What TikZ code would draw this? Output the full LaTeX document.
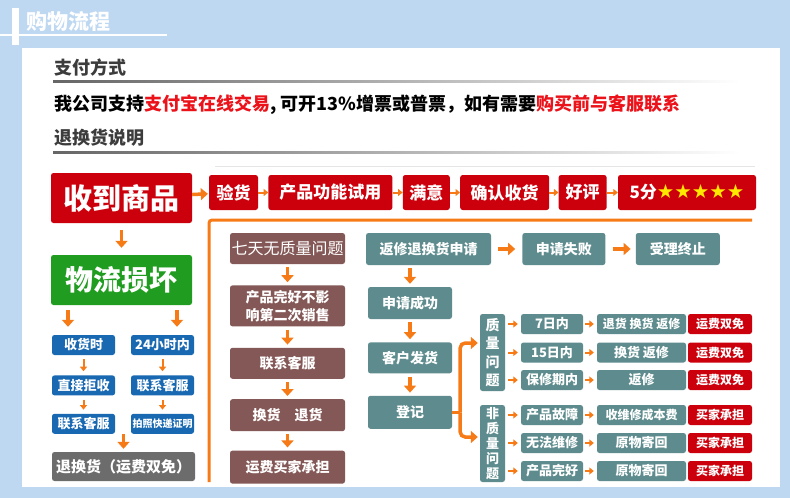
\documentclass[tikz,border=0pt]{standalone}
\usepackage{fontspec}
\setmainfont{Noto Sans CJK SC}
\newfontfamily\starfont{DejaVu Sans}
\usetikzlibrary{arrows.meta,positioning}

\definecolor{cBg}{RGB}{190,216,242}
\definecolor{cRed}{RGB}{204,0,12}
\definecolor{cGreen}{RGB}{32,156,32}
\definecolor{cBlue}{RGB}{24,104,178}
\definecolor{cGray}{RGB}{108,108,108}
\definecolor{cBrown}{RGB}{132,88,86}
\definecolor{cTeal}{RGB}{94,140,142}
\definecolor{cOrange}{RGB}{246,122,22}
\definecolor{cText}{RGB}{235,18,26}
\definecolor{cStar}{RGB}{255,232,0}
\definecolor{cHead}{RGB}{60,60,60}

\newcommand{\fsize}[1]{\bfseries\fontsize{#1}{#1}\selectfont}

\tikzset{
  box/.style={rounded corners=2.5pt, text=white, inner sep=0pt, align=center},
  sz/.style n args={2}{minimum width=#1pt, minimum height=#2pt},
  fs/.style={font=\fsize{#1}},
  redbox/.style={box, fill=cRed},
  greenbox/.style={box, fill=cGreen},
  bluebox/.style={box, fill=cBlue},
  graybox/.style={box, fill=cGray},
  brownbox/.style={box, fill=cBrown},
  tealbox/.style={box, fill=cTeal},
  arr/.style={draw=cOrange, line width=3.5pt, -{Triangle[width=12pt,length=7pt]}},
  sarr/.style={draw=cOrange, line width=2pt, -{Triangle[width=7pt,length=4.5pt]}},
  frame/.style={draw=cOrange, line width=3pt, rounded corners=3pt}
}

\begin{document}
\begin{tikzpicture}[x=1pt, y=-1pt, node distance=10pt]
% background and panel
\useasboundingbox (0,0) rectangle (790,498);
\fill[cBg] (0,0) rectangle (790,498);
\fill[white] (22,48) rectangle (780,487);
\fill[white] (12,8) rectangle (19,45);
\draw[white, line width=1.2pt] (0,35) -- (167,35);
\node[anchor=west, text=white, fs=21] (title) at (23,21) {购物流程};

% payment note
\node[anchor=west, text=cHead, fs=18] (pay) at (51,68) {支付方式};
\shade[left color=black!60, right color=white] (53,80) rectangle (740,82);
\node[anchor=west, fs=18] (note) at (51,105)
  {我公司支持\textcolor{cText}{支付宝在线交易}, 可开13\%增票或普票，如有需要\textcolor{cText}{购买前与客服联系}};
\node[anchor=west, text=cHead, fs=18] (retnote) at (51,138) {退换货说明};
\shade[left color=black!60, right color=white] (53,151) rectangle (740,153);
\draw[black!10] (215,166) -- (755,166);

% top row
\node[redbox, sz={141}{50}, fs=29] (get) at (121.5,198) {收到商品};
\node[redbox, sz={49}{35}, fs=17] (check) at (233.5,192.5) {验货};
\node[redbox, sz={124}{35}, fs=17, right=of check] (trial) {产品功能试用};
\node[redbox, sz={47}{35}, fs=17, right=of trial] (happy) {满意};
\node[redbox, sz={89}{35}, fs=17, right=of happy] (confirm) {确认收货};
\node[redbox, sz={48}{35}, fs=17, right=9pt of confirm] (praise) {好评};
\node[redbox, sz={138}{35}, fs=17, right=11pt of praise] (score) {5分{\starfont\mdseries\fontsize{19.5}{19.5}\selectfont\color{cStar}★★★★★}};
\draw[arr, shorten >=1pt] (get) -- (check);
\draw[sarr] (check) -- (trial);
\draw[sarr] (trial) -- (happy);
\draw[sarr] (happy) -- (confirm);
\draw[sarr] (confirm) -- (praise);
\draw[sarr] (praise) -- (score);
\draw[frame] (752,220) -- (209,220) -- (209,482);

% logistics damage
\node[greenbox, sz={141}{50}, fs=28] (dmg) at (121.5,280) {物流损坏};
\draw[arr, shorten <=7pt, shorten >=7pt] (get) -- (dmg);
\node[bluebox, sz={63}{20}, fs=13] (recv) at (83.5,345) {收货时};
\node[bluebox, sz={63}{20}, fs=13] (day) at (162.5,345) {24小时内};
\node[bluebox, sz={63}{20}, fs=13, below=20pt of recv] (reject) {直接拒收};
\node[bluebox, sz={63}{20}, fs=13, below=20pt of day] (svc) {联系客服};
\node[bluebox, sz={63}{20}, fs=13, below=18pt of reject] (svcb) {联系客服};
\node[bluebox, sz={63}{20}, fs=10, below=18pt of svc] (photo) {拍照快递证明};
\node[graybox, sz={143}{29}, fs=15] (swapfree) at (123.5,466.5) {退换货（运费双免）};
\draw[arr, shorten <=5pt, shorten >=8pt] ([xshift=-15.5pt]recv.north |- dmg.south) -- ([xshift=-15.5pt]recv.north);
\draw[arr, shorten <=5pt, shorten >=8pt] ([xshift=14.5pt]day.north |- dmg.south) -- ([xshift=14.5pt]day.north);
\draw[sarr, shorten <=4pt, shorten >=4pt] (recv) -- (reject);
\draw[sarr, shorten <=4pt, shorten >=4pt] (reject) -- (svcb);
\draw[sarr, shorten <=4pt, shorten >=4pt] (day) -- (svc);
\draw[sarr, shorten <=4pt, shorten >=4pt] (svc) -- (photo);
\draw[arr, shorten >=3pt] (swapfree.north |- svcb.south) -- (swapfree.north);

% seven days
\node[brownbox, sz={115}{31}, font=\fontsize{16}{16}\selectfont] (seven) at (287.5,248.5) {七天无质量问题};
\node[brownbox, sz={115}{41}, font=\bfseries\fontsize{14}{18}\selectfont, below=21pt of seven] (intact) {产品完好不影\\响第二次销售};
\node[brownbox, sz={115}{31}, fs=14, below=21pt of intact] (svcc) {联系客服};
\node[brownbox, sz={115}{32}, fs=14, below=20pt of svcc] (swap) {换货\quad 退货};
\node[brownbox, sz={115}{33}, fs=14, below=19pt of swap] (buyer) {运费买家承担};
\draw[arr, shorten <=3pt, shorten >=3pt] (seven) -- (intact);
\draw[arr, shorten <=3pt, shorten >=3pt] (intact) -- (svcc);
\draw[arr, shorten <=3pt, shorten >=3pt] (svcc) -- (swap);
\draw[arr, shorten <=3pt, shorten >=3pt] (swap) -- (buyer);

% repair request
\node[tealbox, sz={125}{32}, fs=14] (apply) at (428.5,249) {返修退换货申请};
\node[tealbox, sz={83}{32}, fs=14, right=31pt of apply] (fail) {申请失败};
\node[tealbox, sz={84}{32}, fs=14, right=30pt of fail] (stop) {受理终止};
\node[tealbox, sz={84}{32}, fs=14] (ok) at (410,303) {申请成功};
\node[tealbox, sz={84}{31}, fs=14, below=23pt of ok] (ship) {客户发货};
\node[tealbox, sz={84}{33}, fs=14, below=22pt of ship] (reg) {登记};
\draw[arr, shorten <=7pt, shorten >=7pt] (apply) -- (fail);
\draw[arr, shorten <=7pt, shorten >=5pt] (fail) -- (stop);
\draw[arr, shorten <=3pt, shorten >=3pt] (ok.north |- apply.south) -- (ok);
\draw[arr, shorten <=3pt, shorten >=3pt] (ok) -- (ship);
\draw[arr, shorten <=3pt, shorten >=3pt] (ship) -- (reg);

% quality split
\node[tealbox, sz={25}{77}, font=\bfseries\fontsize{14}{18.5}\selectfont] (qual) at (492.5,352.5) {质\\量\\问\\题};
\node[tealbox, sz={25}{77}, font=\bfseries\fontsize{13}{14.8}\selectfont] (nonq) at (492.5,443.5) {非\\质\\量\\问\\题};
\coordinate (fork) at ([xshift=8pt]reg.east);
\draw[draw=cOrange, line width=3.5pt] (reg.east) -- (fork);
\draw[arr, rounded corners=5pt, shorten >=2pt] (fork) |- ([yshift=9.5pt]qual.west);
\draw[arr, rounded corners=5pt, shorten >=2pt] (fork) |- ([yshift=6.5pt]nonq.west);

% quality rows
\node[tealbox, sz={62}{20}, fs=13] (qa) at (552,324) {7日内};
\node[tealbox, sz={89}{20}, fs=12] (qb) at (641.5,324) {退货 换货 返修};
\node[redbox, sz={64}{20}, fs=12] (qc) at (720,324) {运费双免};
\node[tealbox, sz={62}{20}, fs=13] (fa) at (552,352.5) {15日内};
\node[tealbox, sz={89}{20}, fs=13] (fb) at (641.5,352.5) {换货 返修};
\node[redbox, sz={64}{20}, fs=12] (fc) at (720,352.5) {运费双免};
\node[tealbox, sz={62}{20}, fs=13] (wa) at (552,380) {保修期内};
\node[tealbox, sz={89}{20}, fs=13] (wb) at (641.5,380) {返修};
\node[redbox, sz={64}{20}, fs=12] (wc) at (720,380) {运费双免};

% non-quality rows
\node[tealbox, sz={62}{20}, fs=13] (ea) at (552,415) {产品故障};
\node[tealbox, sz={89}{20}, fs=12] (eb) at (641.5,415) {收维修成本费};
\node[redbox, sz={64}{20}, fs=12] (ec) at (720,415) {买家承担};
\node[tealbox, sz={62}{20}, fs=13] (na) at (552,443) {无法维修};
\node[tealbox, sz={89}{20}, fs=13] (nb) at (641.5,443) {原物寄回};
\node[redbox, sz={64}{20}, fs=12] (nc) at (720,443) {买家承担};
\node[tealbox, sz={62}{20}, fs=13] (pa) at (552,471) {产品完好};
\node[tealbox, sz={89}{20}, fs=13] (pb) at (641.5,471) {原物寄回};
\node[redbox, sz={64}{20}, fs=12] (pc) at (720,471) {买家承担};

\draw[sarr, shorten <=3pt, shorten >=3pt] (qual.east |- qa) -- (qa);
\draw[sarr, shorten <=3pt, shorten >=3pt] (qual.east |- fa) -- (fa);
\draw[sarr, shorten <=3pt, shorten >=3pt] (qual.east |- wa) -- (wa);
\draw[sarr, shorten <=3pt, shorten >=3pt] (nonq.east |- ea) -- (ea);
\draw[sarr, shorten <=3pt, shorten >=3pt] (nonq.east |- na) -- (na);
\draw[sarr, shorten <=3pt, shorten >=3pt] (nonq.east |- pa) -- (pa);
\draw[sarr, shorten <=2pt, shorten >=3pt] (qa) -- (qb);
\draw[sarr, shorten <=2pt, shorten >=3pt] (fa) -- (fb);
\draw[sarr, shorten <=2pt, shorten >=3pt] (wa) -- (wb);
\draw[sarr, shorten <=2pt, shorten >=3pt] (ea) -- (eb);
\draw[sarr, shorten <=2pt, shorten >=3pt] (na) -- (nb);
\draw[sarr, shorten <=2pt, shorten >=3pt] (pa) -- (pb);
\end{tikzpicture}
\end{document}
